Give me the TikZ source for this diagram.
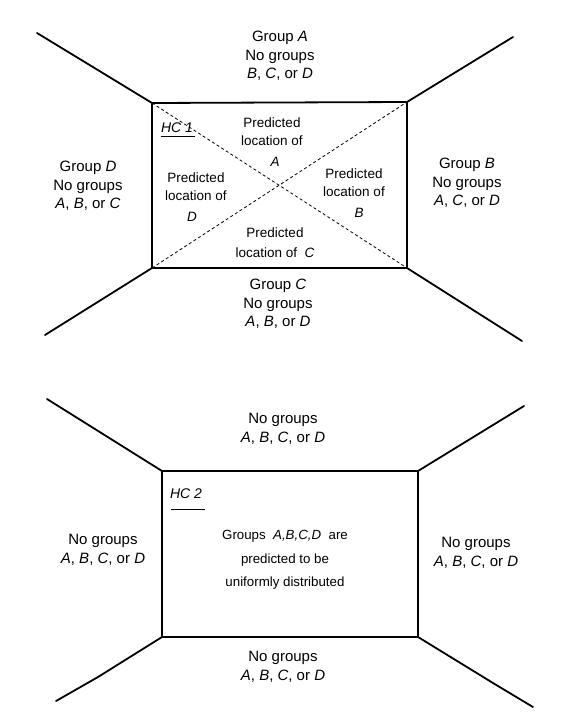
\documentclass[tikz,border=0pt]{standalone}
\usepackage{fontspec}
\setmainfont{Liberation Sans}
\begin{document}
\begin{tikzpicture}[x=1pt,y=-1pt,
  wall/.style={line width=1.8pt, line cap=round, line join=miter},
  diag/.style={line width=0.8pt, dash pattern=on 3pt off 2.5pt},
  uline/.style={line width=0.9pt},
  outer/.style={align=center, inner sep=0pt, font=\fontsize{15}{18.5}\selectfont},
  inner/.style={align=center, inner sep=0pt, font=\fontsize{13.5}{18.7}\selectfont},
  uni/.style={align=center, inner sep=0pt, font=\fontsize{13.3}{23.5}\selectfont},
  hclabel/.style={inner sep=0pt, font=\fontsize{14}{16}\selectfont\itshape}]
\useasboundingbox (0,0) rectangle (579,717);

% ---------- top diagram (HC 1) ----------
\coordinate (tTL) at (152,103);
\coordinate (tTR) at (407,102);
\coordinate (tBL) at (152,268);
\coordinate (tBR) at (407,268);
\coordinate (teTL) at (37,33);
\coordinate (teTR) at (513,37);
\coordinate (teBL) at (45,335);
\coordinate (teBR) at (522,341);

\draw[diag] (tTL) -- (tBR);
\draw[diag] (tBL) -- (tTR);
\draw[wall] (tTL) -- (tTR) -- (tBR) -- (tBL) -- cycle;
\draw[wall] (tTL) -- (teTL);
\draw[wall] (tTR) -- (teTR);
\draw[wall] (tBL) -- (teBL);
\draw[wall] (tBR) -- (teBR);

\node[outer] (gA) at (280,56) {Group \textit{A}\\No groups\\\textit{B}, \textit{C}, or \textit{D}};
\node[outer] (gD) at (88,186) {Group \textit{D}\\No groups\\\textit{A}, \textit{B}, or \textit{C}};
\node[outer] (gB) at (467,183) {Group \textit{B}\\No groups\\\textit{A}, \textit{C}, or \textit{D}};
\node[outer] (gC) at (278,304) {Group \textit{C}\\No groups\\\textit{A}, \textit{B}, or \textit{D}};

\node[inner] (pA) at (272,142) {Predicted\\location of\\[2pt]\hspace*{6pt}\textit{A}};
\node[inner] (pD) at (196,197) {Predicted\\location of\\[2pt]\hspace*{-8pt}\textit{D}};
\node[inner] (pB) at (354,193) {Predicted\\location of\\[2pt]\hspace*{10pt}\textit{B}};
\node[inner] (pC) at (275,243) {Predicted\\[1.3pt]location of\ \ \textit{C}};

\node[hclabel] (hc1) at (177,128) {HC 1};
\draw[uline] (161,136) -- (195,136);

% ---------- bottom diagram (HC 2) ----------
\coordinate (bTL) at (162,471);
\coordinate (bTR) at (418,471);
\coordinate (bBL) at (162,637);
\coordinate (bBR) at (418,637);
\coordinate (beTL) at (47,399);
\coordinate (beTR) at (524,406);
\coordinate (bkBL) at (98,677);
\coordinate (beBL) at (56,701);
\coordinate (bkBR) at (493,683);
\coordinate (beBR) at (533,707);

\draw[wall] (bTL) -- (bTR) -- (bBR) -- (bBL) -- cycle;
\draw[wall] (bTL) -- (beTL);
\draw[wall] (bTR) -- (beTR);
\draw[wall] (bBL) -- (bkBL) -- (beBL);
\draw[wall] (bBR) -- (bkBR) -- (beBR);

\node[outer] (n1) at (283,429) {No groups\\\textit{A}, \textit{B}, \textit{C}, or \textit{D}};
\node[outer] (n2) at (103,550) {No groups\\\textit{A}, \textit{B}, \textit{C}, or \textit{D}};
\node[outer] (n3) at (476,553) {No groups\\\textit{A}, \textit{B}, \textit{C}, or \textit{D}};
\node[outer] (n4) at (283,667) {No groups\\\textit{A}, \textit{B}, \textit{C}, or \textit{D}};

\node[hclabel] (hc2) at (186,493.5) {HC 2};
\draw[uline] (171,509) -- (205,509);

\node[uni] (u) at (285,560) {Groups\ \ \textit{A,B,C,D}\ \ are\\predicted to be\\uniformly distributed};
\end{tikzpicture}
\end{document}
